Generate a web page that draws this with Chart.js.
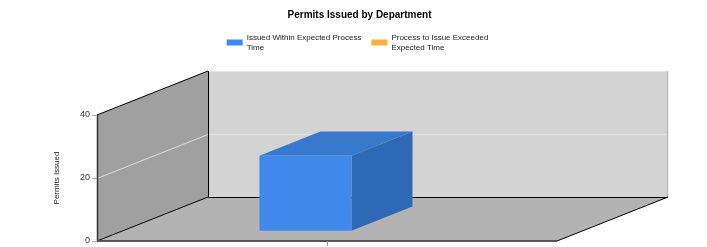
<!DOCTYPE html>
<html><head><meta charset="utf-8">
<script src="https://cdn.jsdelivr.net/npm/chart.js@4/dist/chart.umd.min.js"></script>
<style>html,body{margin:0;padding:0;background:#fff;overflow:hidden}#wrap{width:707px;height:247px;position:relative}canvas{display:block}</style>
</head><body><div id="wrap"><canvas id="c" width="707" height="247"></canvas></div>
<script>
// ---- data ----
const categories = ['Department'];
const issuedWithinExpected = [24];
const exceededExpected = [0];
const seriesLabels = [['Issued Within Expected Process', 'Time'], ['Process to Issue Exceeded', 'Expected Time']];
const yTickValues = [0, 20, 40];
const chartTitle = 'Permits Issued by Department';
const yAxisTitle = 'Permits Issued';

// ---- style ----
const FONT = "'Liberation Sans', Arial, sans-serif";
Chart.defaults.font.family = FONT;
const DX = 111, DY = -44;       // depth offset of the back plane
const F0 = 0.22, F1 = 0.77;     // bar depth range (fraction of depth)
const faceColors = [
  {front: '#418AEB', top: '#3878CD', side: '#2F69B5'},
  {front: '#FBB040', top: '#E09A30', side: '#C98A28'}
];

function poly(ctx, pts, fill) {
  ctx.beginPath();
  ctx.moveTo(pts[0][0], pts[0][1]);
  for (let i = 1; i < pts.length; i++) ctx.lineTo(pts[i][0], pts[i][1]);
  ctx.closePath();
  ctx.fillStyle = fill;
  ctx.fill();
}
function seg(ctx, x1, y1, x2, y2, color, w) {
  ctx.beginPath();
  ctx.moveTo(x1, y1); ctx.lineTo(x2, y2);
  ctx.strokeStyle = color; ctx.lineWidth = w || 1;
  ctx.stroke();
}

const threeD = {
  id: 'threeD',
  beforeDraw(chart) {
    const {ctx, chartArea: a, scales: {y}} = chart;
    const L = a.left, R = a.right, T = a.top, B = a.bottom;
    ctx.save();
    // back wall
    poly(ctx, [[L + DX, T + DY], [R + DX, T + DY], [R + DX, B + DY], [L + DX, B + DY]], '#d3d3d3');
    // left wall
    poly(ctx, [[L, T], [L + DX, T + DY], [L + DX, B + DY], [L, B]], '#a0a0a0');
    // floor
    poly(ctx, [[L, B], [L + DX, B + DY], [R + DX, B + DY], [R, B]], '#b3b3b3');
    // grid lines on walls
    y.ticks.forEach(t => {
      if (t.value <= y.min || t.value >= y.max) return;
      const py = Math.round(y.getPixelForValue(t.value)) + 0.5;
      seg(ctx, L, py, L + DX, py + DY, '#dcdcdc', 1);
      seg(ctx, L + DX, py + DY, R + DX, py + DY, '#e2e2e2', 1);
    });
    // back wall light border
    seg(ctx, L + DX, T + DY + 0.5, R + DX, T + DY + 0.5, '#e6e6e6', 1);
    seg(ctx, R + DX - 0.5, T + DY, R + DX - 0.5, B + DY, '#b8b8b8', 1.5);
    // black edges
    seg(ctx, L, T, L + DX, T + DY, '#000', 1);
    seg(ctx, L + DX + 0.5, T + DY, L + DX + 0.5, B + DY, '#000', 1);
    seg(ctx, L, B, L + DX, B + DY, '#000', 1);
    seg(ctx, L + DX, B + DY + 0.5, R + DX, B + DY + 0.5, '#000', 1);
    seg(ctx, R + DX, B + DY, R, B, '#000', 1);
    // front edges
    seg(ctx, L + 0.5, T, L + 0.5, B, '#333', 1.5);
    seg(ctx, L, B, R, B, '#555', 2);
    ctx.restore();
  },
  beforeDatasetsDraw(chart) {
    const ctx = chart.ctx;
    ctx.save();
    chart.data.datasets.forEach((ds, i) => {
      if (!chart.isDatasetVisible(i)) return;
      const meta = chart.getDatasetMeta(i);
      const col = faceColors[i];
      meta.data.forEach(bar => {
        const {x, y, base, width} = bar.getProps(['x', 'y', 'base', 'width'], true);
        if (Math.abs(base - y) < 0.5) return;
        const l = x - width / 2 + DX * F0, r = x + width / 2 + DX * F0;
        const t = Math.min(y, base) + DY * F0, b = Math.max(y, base) + DY * F0;
        const ddx = DX * (F1 - F0), ddy = DY * (F1 - F0);
        poly(ctx, [[l, t], [r, t], [r + ddx, t + ddy], [l + ddx, t + ddy]], col.top);
        poly(ctx, [[r, t], [r + ddx, t + ddy], [r + ddx, b + ddy], [r, b]], col.side);
      });
    });
    ctx.restore();
    ctx.save();
    ctx.translate(DX * F0, DY * F0);
  },
  afterDatasetsDraw(chart) {
    chart.ctx.restore();
  },
  afterDraw(chart) {
    // legend (two-line labels)
    const ctx = chart.ctx;
    ctx.save();
    ctx.font = '8px ' + FONT;
    ctx.textBaseline = 'middle';
    ctx.textAlign = 'left';
    const boxW = 16, boxH = 6, gapText = 4, gapItem = 10;
    const widths = seriesLabels.map(lines => boxW + gapText + Math.max(...lines.map(s => ctx.measureText(s).width)));
    const total = widths.reduce((s, w) => s + w, 0) + gapItem * (widths.length - 1);
    let x = chart.width / 2 + 4 - total / 2;
    const cy = 42.5;
    seriesLabels.forEach((lines, i) => {
      ctx.fillStyle = chart.data.datasets[i].backgroundColor;
      ctx.fillRect(x, cy - boxH / 2, boxW, boxH);
      ctx.fillStyle = '#222';
      lines.forEach((s, k) => {
        ctx.fillText(s, x + boxW + gapText, cy - 5 + k * 10);
      });
      x += widths[i] + gapItem;
    });
    ctx.restore();
  }
};

new Chart(document.getElementById('c'), {
  type: 'bar',
  data: {
    labels: categories,
    datasets: [
      {label: seriesLabels[0].join(' '), data: issuedWithinExpected, backgroundColor: faceColors[0].front, borderWidth: 0},
      {label: seriesLabels[1].join(' '), data: exceededExpected, backgroundColor: faceColors[1].front, borderWidth: 0}
    ]
  },
  options: {
    responsive: false,
    animation: false,
    events: [],
    layout: {padding: {left: 12, right: 0, top: 0, bottom: 0}},
    datasets: {bar: {categoryPercentage: 0.4, barPercentage: 1.0}},
    plugins: {
      legend: {display: false},
      tooltip: {enabled: false},
      title: {display: true, text: chartTitle, color: '#000', font: {size: 10, weight: 'bold'}, padding: {top: 9, bottom: 94}}
    },
    scales: {
      x: {
        ticks: {display: false},
        grid: {offset: false, drawOnChartArea: false, drawTicks: true, tickLength: 5, color: '#999'},
        border: {display: false},
        afterFit(s) { s.height = 6; s.paddingLeft = 0; s.paddingRight = 0; }
      },
      y: {
        min: 0, max: 40,
        afterBuildTicks(s) { s.ticks = yTickValues.map(v => ({value: v})); },
        ticks: {font: {size: 9}, color: '#333', padding: 2},
        grid: {drawOnChartArea: false, drawTicks: true, tickLength: 5, color: '#aaa'},
        border: {display: false},
        title: {display: true, text: yAxisTitle, color: '#222', font: {size: 8}, padding: {top: 40, bottom: 0}},
        afterFit(s) { s.width = 85; s.paddingTop = 0; s.paddingBottom = 0; }
      },
      yR: {
        position: 'right',
        grid: {display: false},
        ticks: {display: false},
        border: {display: false},
        afterFit(s) { s.width = 150; s.paddingTop = 0; s.paddingBottom = 0; }
      }
    }
  },
  plugins: [threeD]
});
</script>
</body></html>
